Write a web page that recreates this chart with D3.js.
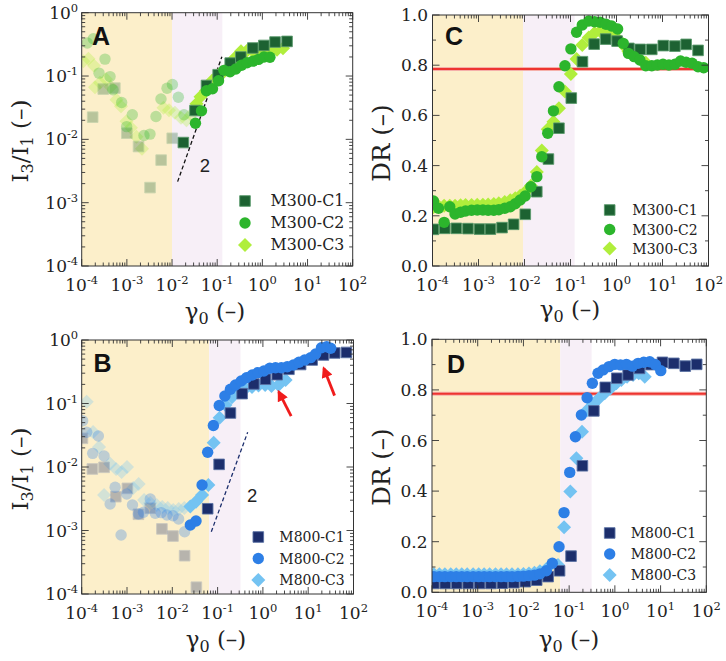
<!DOCTYPE html>
<html><head><meta charset="utf-8">
<script src="https://cdn.jsdelivr.net/npm/d3@7"></script>
<style>body{margin:0;background:#fff;} svg{display:block;}</style>
</head><body>
<svg id="chart" width="726" height="661"></svg>
<script>
// ---------------- DATA ----------------
const xTickExps = [-4, -3, -2, -1, 0, 1, 2];
const logYTickExps = [-4, -3, -2, -1, 0];
const drMajorTicks = [0.0, 0.2, 0.4, 0.6, 0.8, 1.0];
const drMinorTicks = [0.1, 0.3, 0.5, 0.7, 0.9];
const m300Names = ["M300-C1", "M300-C2", "M300-C3"];
const m800Names = ["M800-C1", "M800-C2", "M800-C3"];
const panelLetters = ["A", "B", "C", "D"];
const drReference = 0.785;

// Panel A : I3/I1 for M300
const A_C1_x = [1.75e-4, 3.0e-4, 5.42e-4, 1.0e-3, 1.81e-3, 3.26e-3, 5.74e-3, 0.0101, 0.0178, 0.0322, 0.058, 0.105, 0.194, 0.333, 0.615, 1.08, 1.91, 3.52];
const A_C1_y = [0.0224, 0.0622, 0.0645, 0.0125, 0.0077, 0.00173, 0.0047, 0.0104, 0.0089, 0.0285, 0.071, 0.105, 0.16, 0.2, 0.277, 0.304, 0.344, 0.352];
const A_C2_x = [1.33e-4, 1.81e-4, 2.42e-4, 3.28e-4, 4.24e-4, 4.93e-4, 7.67e-4, 9.9e-4, 1.32e-3, 2.39e-3, 3.25e-3, 4.41e-3, 5.69e-3, 7.74e-3, 0.0102, 0.0138, 0.0184, 0.033, 0.0449, 0.0579, 0.0787, 0.107, 0.141, 0.192, 0.258, 0.345, 0.457, 0.619, 0.82, 1.086, 1.47];
const A_C2_y = [0.332, 0.388, 0.111, 0.185, 0.098, 0.0607, 0.0382, 0.0159, 0.0244, 0.0115, 0.0121, 0.0229, 0.0433, 0.064, 0.0734, 0.0461, 0.0244, 0.018, 0.0282, 0.0585, 0.0628, 0.0841, 0.123, 0.117, 0.129, 0.148, 0.162, 0.172, 0.183, 0.2, 0.198];
const A_C3_x = [1.09e-4, 1.41e-4, 1.87e-4, 1.97e-4, 2.54e-4, 3.45e-4, 4.35e-4, 5.89e-4, 7.41e-4, 9.8e-4, 1.23e-3, 1.63e-3, 2.16e-3, 6.47e-3, 8.57e-3, 0.0116, 0.0158, 0.0209, 0.0262, 0.0348, 0.0427, 0.0565, 0.0767, 0.104, 0.141, 0.192, 0.248, 0.336, 0.457, 0.619, 0.841, 1.14, 1.55, 2.11, 2.86];
const A_C3_y = [0.171, 0.187, 0.145, 0.0664, 0.0781, 0.089, 0.0676, 0.0422, 0.0333, 0.0193, 0.0152, 0.011, 0.0071, 0.0315, 0.0287, 0.0262, 0.0219, 0.02, 0.0244, 0.0364, 0.047, 0.0585, 0.0841, 0.103, 0.117, 0.143, 0.195, 0.246, 0.251, 0.246, 0.241, 0.251, 0.255, 0.26, 0.275];

// Panel B : I3/I1 for M800
const B_C1_x = [1.04e-4, 1.72e-4, 3.12e-4, 5.66e-4, 1.02e-3, 1.79e-3, 3.26e-3, 5.9e-3, 0.01035, 0.0187, 0.034, 0.0604, 0.108, 0.192, 0.348, 0.63, 1.14, 2.07, 3.75, 6.8, 12.2, 21.7, 38.5, 69.8];
const B_C1_y = [0.0283, 0.00931, 0.00989, 0.00341, 0.00461, 0.0018, 0.00224, 0.00106, 0.000818, 0.000401, 0.000128, 0.0022, 0.011, 0.0708, 0.143, 0.203, 0.241, 0.284, 0.346, 0.411, 0.484, 0.581, 0.625, 0.637];
const B_C2_x = [1.05e-4, 1.29e-4, 1.75e-4, 2.33e-4, 3.12e-4, 4.24e-4, 5.47e-4, 7.41e-4, 9.9e-4, 1.32e-3, 1.79e-3, 2.31e-3, 3.26e-3, 4.2e-3, 5.7e-3, 7.62e-3, 0.01035, 0.01377, 0.0187, 0.025, 0.0334, 0.0454, 0.0604, 0.0807, 0.1086, 0.145, 0.192, 0.248, 0.332, 0.435, 0.581, 0.773, 1.05, 1.42, 1.9, 2.55, 3.45, 4.7, 6.25, 8.36, 11.3, 14.6, 19.6, 25.6, 31.4];
const B_C2_y = [0.0536, 0.0352, 0.0164, 0.0308, 0.0149, 0.00261, 0.00479, 0.000849, 0.00376, 0.00252, 0.00182, 0.00194, 0.00313, 0.00187, 0.00191, 0.00175, 0.00171, 0.00152, 0.000957, 0.00122, 0.00141, 0.00521, 0.0171, 0.045, 0.0931, 0.131, 0.1675, 0.196, 0.226, 0.255, 0.281, 0.306, 0.325, 0.359, 0.366, 0.366, 0.379, 0.404, 0.446, 0.484, 0.527, 0.603, 0.757, 0.785, 0.741];
const B_C3_x = [1.29e-4, 1.78e-4, 2.42e-4, 3.12e-4, 4.24e-4, 5.74e-4, 7.6e-4, 1.0e-3, 1.37e-3, 1.81e-3, 2.39e-3, 3.26e-3, 4.53e-3, 6.0e-3, 7.94e-3, 0.0105, 0.0139, 0.0184, 0.025, 0.0334, 0.0454, 0.0625, 0.082, 0.111, 0.149, 0.207, 0.288, 0.413, 0.575, 0.8, 1.12, 1.55, 2.22, 3.17];
const B_C3_y = [0.107, 0.0356, 0.0207, 0.00363, 0.0112, 0.0093, 0.00834, 0.01, 0.00467, 0.0054, 0.00302, 0.00271, 0.00252, 0.00234, 0.00226, 0.0021, 0.00218, 0.00226, 0.00239, 0.00284, 0.00363, 0.00521, 0.0242, 0.0598, 0.0948, 0.126, 0.152, 0.173, 0.182, 0.192, 0.196, 0.189, 0.196, 0.234];

// Panel C : DR for M300
const C_C1_x = [1.05e-4, 1.85e-4, 3.3e-4, 5.9e-4, 1.05e-3, 1.82e-3, 3.25e-3, 5.8e-3, 0.0104, 0.0185, 0.0331, 0.0561, 0.104, 0.182, 0.327, 0.582, 1.03, 1.86, 3.27, 5.85, 10.4, 18.6, 32.7, 59.3];
const C_C1_y = [0.146, 0.150, 0.150, 0.149, 0.147, 0.147, 0.153, 0.166, 0.206, 0.296, 0.426, 0.549, 0.669, 0.814, 0.884, 0.904, 0.896, 0.867, 0.863, 0.863, 0.878, 0.876, 0.883, 0.859];
const C_C2_x = [1.05e-4, 1.35e-4, 1.79e-4, 2.37e-4, 3.09e-4, 4.08e-4, 5.24e-4, 7.06e-4, 9.38e-4, 1.245e-3, 1.62e-3, 2.15e-3, 2.76e-3, 3.72e-3, 4.91e-3, 6.3e-3, 8.07e-3, 0.01035, 0.01374, 0.01854, 0.02377, 0.032, 0.0426, 0.0561, 0.0757, 0.102, 0.1355, 0.18, 0.2495, 0.332, 0.4406, 0.593, 0.783, 1.057, 1.403, 1.824, 2.421, 3.221, 4.335, 5.848, 7.727, 10.26, 13.8, 18.62, 24.7, 32.66, 44.06, 59.29, 78.7];
const C_C2_y = [0.259, 0.230, 0.174, 0.236, 0.207, 0.214, 0.219, 0.222, 0.223, 0.223, 0.222, 0.222, 0.224, 0.23, 0.236, 0.248, 0.263, 0.279, 0.316, 0.356, 0.435, 0.529, 0.618, 0.714, 0.798, 0.865, 0.931, 0.960, 0.976, 0.973, 0.971, 0.963, 0.956, 0.944, 0.887, 0.847, 0.834, 0.821, 0.798, 0.798, 0.801, 0.804, 0.801, 0.804, 0.817, 0.812, 0.808, 0.794, 0.790];
const C_C3_x = [1.05e-4, 1.35e-4, 1.79e-4, 2.37e-4, 3.09e-4, 4.08e-4, 5.24e-4, 7.06e-4, 9.38e-4, 1.245e-3, 1.62e-3, 2.15e-3, 2.76e-3, 3.72e-3, 4.91e-3, 6.3e-3, 8.07e-3, 0.01035, 0.01374, 0.01854, 0.02377, 0.032, 0.0426, 0.0561, 0.0757, 0.102, 0.1355, 0.18, 0.2495, 0.332, 0.4406, 0.593, 0.783, 1.057, 1.403, 1.824, 2.421, 3.221, 4.335];
const C_C3_y = [0.235, 0.238, 0.24, 0.24, 0.24, 0.242, 0.243, 0.243, 0.244, 0.244, 0.245, 0.247, 0.25, 0.255, 0.262, 0.27, 0.28, 0.295, 0.32, 0.375, 0.46, 0.545, 0.575, 0.628, 0.695, 0.765, 0.825, 0.88, 0.91, 0.928, 0.935, 0.932, 0.925, 0.905, 0.88, 0.855, 0.84, 0.825, 0.81];

// Panel D : DR for M800
const D_C1_x = [1.1e-4, 1.95e-4, 3.47e-4, 6.17e-4, 1.1e-3, 1.95e-3, 3.47e-3, 6.17e-3, 0.011, 0.0195, 0.0347, 0.0617, 0.11, 0.195, 0.347, 0.617, 1.1, 1.95, 3.47, 6.17, 11.0, 19.5, 34.7, 61.7];
const D_C1_y = [0.035, 0.035, 0.035, 0.035, 0.035, 0.035, 0.036, 0.038, 0.042, 0.048, 0.062, 0.085, 0.143, 0.5, 0.717, 0.81, 0.846, 0.859, 0.885, 0.9, 0.909, 0.905, 0.894, 0.901];
const D_C2_x = [1.1e-4, 1.45e-4, 1.91e-4, 2.57e-4, 3.39e-4, 4.47e-4, 5.89e-4, 7.94e-4, 1.05e-3, 1.38e-3, 1.82e-3, 2.45e-3, 3.24e-3, 4.27e-3, 5.62e-3, 7.59e-3, 0.01, 0.0132, 0.0174, 0.0229, 0.0317, 0.0428, 0.0601, 0.0773, 0.103, 0.137, 0.185, 0.247, 0.322, 0.429, 0.552, 0.746, 0.995, 1.33, 1.79, 2.42, 3.22, 4.29, 5.8, 7.69, 10.1];
const D_C2_y = [0.062, 0.062, 0.062, 0.062, 0.062, 0.062, 0.062, 0.062, 0.062, 0.062, 0.062, 0.062, 0.062, 0.062, 0.062, 0.063, 0.064, 0.066, 0.068, 0.073, 0.085, 0.115, 0.18, 0.315, 0.474, 0.615, 0.701, 0.769, 0.826, 0.866, 0.879, 0.892, 0.901, 0.899, 0.901, 0.894, 0.905, 0.909, 0.911, 0.9, 0.876];
const D_C3_x = [1.1e-4, 1.45e-4, 1.91e-4, 2.57e-4, 3.39e-4, 4.47e-4, 5.89e-4, 7.94e-4, 1.05e-3, 1.38e-3, 1.82e-3, 2.45e-3, 3.24e-3, 4.27e-3, 5.62e-3, 7.59e-3, 0.01, 0.0132, 0.0174, 0.0229, 0.0317, 0.0571, 0.0773, 0.106, 0.144, 0.191, 0.247, 0.333, 0.451, 0.601, 0.798, 1.08, 1.39, 1.85, 2.5, 3.33, 4.51];
const D_C3_y = [0.071, 0.071, 0.071, 0.071, 0.071, 0.071, 0.071, 0.071, 0.071, 0.071, 0.071, 0.071, 0.071, 0.071, 0.071, 0.071, 0.072, 0.074, 0.077, 0.083, 0.092, 0.108, 0.257, 0.398, 0.53, 0.635, 0.72, 0.744, 0.767, 0.787, 0.806, 0.826, 0.839, 0.852, 0.859, 0.866, 0.852];

// shaded strain regions [start, yellow end, pink end]
const shadeA = [1e-4, 0.01, 0.13];
const shadeB = [1e-4, 0.065, 0.32];
const shadeC = [1e-4, 0.0093, 0.123];
const shadeD = [1e-4, 0.064, 0.31];

// slope-2 guide lines
const slopeA_x = [0.0133, 0.127], slopeA_y = [0.00215, 0.202];
const slopeB_x = [0.0726, 0.461], slopeB_y = [0.000957, 0.0352];
const slopeLabelA = [0.0534, 0.0038], slopeLabelB = [0.577, 0.00353];

// red arrows in B: [tailX, tailY, headX, headY]
const arrowsB = [[4.2, 0.0635, 2.24, 0.153], [38.2, 0.133, 22.1, 0.358]];

// ---------------- STYLE / LAYOUT ----------------
const SERIF = "'DejaVu Serif', serif";
const SANS = "'Liberation Sans', Arial, sans-serif";
const SHAPES = {
  square: "M-5.3,-5.3H5.3V5.3H-5.3Z",
  circle: d3.symbol(d3.symbolCircle, Math.PI * 5.7 * 5.7)(),
  diamond: "M0,-7L7,0L0,7L-7,0Z"
};
const m300Style = [
  {shape: "square", fill: "#1d6232", stroke: "#5a9a6c"},
  {shape: "circle", fill: "#2cb52c", stroke: "none"},
  {shape: "diamond", fill: "#b0ee3c", stroke: "none"}
];
const m800Style = [
  {shape: "square", fill: "#1c2e6c", stroke: "#5a72a4"},
  {shape: "circle", fill: "#2d7fe6", stroke: "none"},
  {shape: "diamond", fill: "#74c3f2", stroke: "none"}
];

const panels = [
  {letter: panelLetters[0], type: "log", box: {l: 81.7, r: 352.7, t: 12.7, b: 266},
   xs: [A_C1_x, A_C2_x, A_C3_x], ys: [A_C1_y, A_C2_y, A_C3_y], fade: [0.012, 0.025, 0.03],
   names: m300Names, style: m300Style, shade: shadeA,
   legend: {mx: 245, tx: 270.5, rows: [201, 223, 245], fs: 15.8},
   letterPos: [92, 45], xTitle: [215, 318.5], yTitle: [28, 141],
   slope: {x: slopeA_x, y: slopeA_y, color: "#111", label: slopeLabelA}},
  {letter: panelLetters[1], type: "log", box: {l: 81.7, r: 353.5, t: 340, b: 594},
   xs: [B_C1_x, B_C2_x, B_C3_x], ys: [B_C1_y, B_C2_y, B_C3_y], fade: [0.045, 0.02, 0.02],
   names: m800Names, style: m800Style, shade: shadeB,
   legend: {mx: 258.3, tx: 279.3, rows: [537, 558.5, 580], fs: 14},
   letterPos: [93.5, 372], xTitle: [216, 647], yTitle: [28, 469],
   slope: {x: slopeB_x, y: slopeB_y, color: "#1c2e6c", label: slopeLabelB},
   arrows: arrowsB},
  {letter: panelLetters[2], type: "lin", box: {l: 432.5, r: 708.5, t: 15, b: 266},
   xs: [C_C1_x, C_C2_x, C_C3_x], ys: [C_C1_y, C_C2_y, C_C3_y], fade: [0, 0, 0],
   names: m300Names, style: m300Style, shade: shadeC,
   legend: {mx: 609.7, tx: 632.3, rows: [210, 229.5, 248.5], fs: 14},
   letterPos: [445, 45], xTitle: [570, 317], yTitle: [390, 143], ref: drReference},
  {letter: panelLetters[3], type: "lin", box: {l: 432, r: 706.3, t: 339.3, b: 592.3},
   xs: [D_C1_x, D_C2_x, D_C3_x], ys: [D_C1_y, D_C2_y, D_C3_y], fade: [0, 0, 0],
   names: m800Names, style: m800Style, shade: shadeD,
   legend: {mx: 609.7, tx: 630.7, rows: [533, 554, 575], fs: 14},
   letterPos: [447, 372.5], xTitle: [569, 647], yTitle: [390, 467], ref: drReference}
];

const svg = d3.select("#chart");
const defs = svg.append("defs");
defs.append("marker").attr("id", "arrowhead").attr("viewBox", "0 0 10 10")
  .attr("refX", 8).attr("refY", 5).attr("markerWidth", 4.2).attr("markerHeight", 4)
  .attr("orient", "auto").attr("markerUnits", "strokeWidth")
  .append("path").attr("d", "M0,0L10,5L0,10Z").attr("fill", "#f01c1c");

function expLabel(sel, exp) {
  sel.append("tspan").text("10");
  sel.append("tspan").attr("dy", -7).attr("font-size", 11.5).text(String(exp));
}

panels.forEach((p, pi) => {
  const {l, r, t, b} = p.box;
  const x = d3.scaleLog().domain([1e-4, 1e2]).range([l, r]);
  const y = p.type === "log"
    ? d3.scaleLog().domain([1e-4, 1]).range([b, t])
    : d3.scaleLinear().domain([0, 1]).range([b, t]);
  const g = svg.append("g");
  const clipId = "clip" + pi;
  defs.append("clipPath").attr("id", clipId).append("rect")
    .attr("x", l).attr("y", t).attr("width", r - l).attr("height", b - t);
  const plot = g.append("g").attr("clip-path", `url(#${clipId})`);

  // shaded regions
  plot.append("rect").attr("x", x(p.shade[0])).attr("y", t)
    .attr("width", x(p.shade[1]) - x(p.shade[0])).attr("height", b - t).attr("fill", "#fcefca");
  plot.append("rect").attr("x", x(p.shade[1])).attr("y", t)
    .attr("width", x(p.shade[2]) - x(p.shade[1])).attr("height", b - t).attr("fill", "#f7eff7");

  // reference line
  if (p.ref !== undefined) {
    plot.append("line").attr("x1", l).attr("x2", r).attr("y1", y(p.ref)).attr("y2", y(p.ref))
      .attr("stroke", "#f5b0aa").attr("stroke-width", 4);
    plot.append("line").attr("x1", l).attr("x2", r).attr("y1", y(p.ref)).attr("y2", y(p.ref))
      .attr("stroke", "#ee3430").attr("stroke-width", 2);
  }

  // slope guide
  if (p.slope) {
    plot.append("line")
      .attr("x1", x(p.slope.x[0])).attr("y1", y(p.slope.y[0]))
      .attr("x2", x(p.slope.x[1])).attr("y2", y(p.slope.y[1]))
      .attr("stroke", p.slope.color).attr("stroke-width", 1.3).attr("stroke-dasharray", "4,2.5");
    g.append("text").attr("x", x(p.slope.label[0])).attr("y", y(p.slope.label[1]) + 6.5)
      .attr("text-anchor", "middle").attr("font-family", SANS).attr("font-size", 18.5)
      .attr("fill", "#222").text("2");
  }

  // markers: draw C3, C1, C2
  [2, 0, 1].forEach(si => {
    const st = p.style[si];
    const pts = d3.zip(p.xs[si], p.ys[si]);
    plot.append("g").selectAll("path").data(pts).join("path")
      .attr("d", SHAPES[st.shape])
      .attr("transform", d => `translate(${x(d[0])},${y(d[1])})`)
      .attr("fill", st.fill).attr("stroke", st.stroke).attr("stroke-width", 0.9)
      .attr("opacity", d => d[0] < p.fade[si] ? 0.3 : 1);
  });

  // arrows
  if (p.arrows) {
    p.arrows.forEach(a => {
      g.append("line").attr("x1", x(a[0])).attr("y1", y(a[1])).attr("x2", x(a[2])).attr("y2", y(a[3]))
        .attr("stroke", "#f01c1c").attr("stroke-width", 2.8).attr("marker-end", "url(#arrowhead)");
    });
  }

  // frame
  g.append("rect").attr("x", l).attr("y", t).attr("width", r - l).attr("height", b - t)
    .attr("fill", "none").attr("stroke", "#333").attr("stroke-width", 1);

  const tickG = g.append("g").attr("stroke", "#333").attr("stroke-width", 0.9);
  // x ticks (log)
  xTickExps.forEach(e => {
    const v = Math.pow(10, e);
    const px = x(v);
    tickG.append("line").attr("x1", px).attr("x2", px).attr("y1", b).attr("y2", b - 7);
    tickG.append("line").attr("x1", px).attr("x2", px).attr("y1", t).attr("y2", t + 7);
    if (e < 2) {
      for (let m = 2; m <= 9; m++) {
        const mx = x(m * v);
        tickG.append("line").attr("x1", mx).attr("x2", mx).attr("y1", b).attr("y2", b - 3.5);
        tickG.append("line").attr("x1", mx).attr("x2", mx).attr("y1", t).attr("y2", t + 3.5);
      }
    }
    const tx = g.append("text").attr("x", px).attr("y", b + 24.5).attr("text-anchor", "middle")
      .attr("font-family", SERIF).attr("font-size", 17).attr("fill", "#222");
    expLabel(tx, e);
  });

  // y ticks
  if (p.type === "log") {
    logYTickExps.forEach(e => {
      const v = Math.pow(10, e);
      const py = y(v);
      tickG.append("line").attr("x1", l).attr("x2", l + 7).attr("y1", py).attr("y2", py);
      tickG.append("line").attr("x1", r).attr("x2", r - 7).attr("y1", py).attr("y2", py);
      if (e < 0) {
        for (let m = 2; m <= 9; m++) {
          const my = y(m * v);
          tickG.append("line").attr("x1", l).attr("x2", l + 3.5).attr("y1", my).attr("y2", my);
          tickG.append("line").attr("x1", r).attr("x2", r - 3.5).attr("y1", my).attr("y2", my);
        }
      }
      const ty = g.append("text").attr("x", l - 3.5).attr("y", py + 6).attr("text-anchor", "end")
        .attr("font-family", SERIF).attr("font-size", 17).attr("fill", "#222");
      expLabel(ty, e);
    });
  } else {
    drMajorTicks.forEach(v => {
      const py = y(v);
      tickG.append("line").attr("x1", l).attr("x2", l + 7).attr("y1", py).attr("y2", py);
      tickG.append("line").attr("x1", r).attr("x2", r - 7).attr("y1", py).attr("y2", py);
      g.append("text").attr("x", l - 4.5).attr("y", py + 6).attr("text-anchor", "end")
        .attr("font-family", SERIF).attr("font-size", 17).attr("fill", "#222").text(v.toFixed(1));
    });
    drMinorTicks.forEach(v => {
      const py = y(v);
      tickG.append("line").attr("x1", l).attr("x2", l + 3.5).attr("y1", py).attr("y2", py);
      tickG.append("line").attr("x1", r).attr("x2", r - 3.5).attr("y1", py).attr("y2", py);
    });
  }

  // x title
  const xt = g.append("text").attr("x", p.xTitle[0]).attr("y", p.xTitle[1]).attr("text-anchor", "middle")
    .attr("font-family", SERIF).attr("font-size", 23).attr("fill", "#222");
  xt.append("tspan").text("γ");
  xt.append("tspan").attr("dy", 5).attr("font-size", 16).text("0");
  xt.append("tspan").attr("dy", -5).text(" (–)");

  // y title
  const yt = g.append("text").attr("transform", `translate(${p.yTitle[0]},${p.yTitle[1]}) rotate(-90)`)
    .attr("text-anchor", "middle").attr("font-family", SERIF).attr("font-size", 23).attr("fill", "#222");
  if (p.type === "log") {
    yt.append("tspan").text("I");
    yt.append("tspan").attr("dy", 5).attr("font-size", 16).text("3");
    yt.append("tspan").attr("dy", -5).text("/I");
    yt.append("tspan").attr("dy", 5).attr("font-size", 16).text("1");
    yt.append("tspan").attr("dy", -5).text(" (–)");
  } else {
    yt.attr("font-size", 24.5).text("DR (–)");
  }

  // panel letter
  g.append("text").attr("x", p.letterPos[0]).attr("y", p.letterPos[1])
    .attr("font-family", SANS).attr("font-weight", "bold").attr("font-size", 25)
    .attr("fill", "#111").text(p.letter);

  // legend
  p.names.forEach((name, i) => {
    const st = p.style[i];
    const ry = p.legend.rows[i];
    g.append("path").attr("d", SHAPES[st.shape]).attr("transform", `translate(${p.legend.mx},${ry})`)
      .attr("fill", st.fill).attr("stroke", st.stroke).attr("stroke-width", 0.9);
    g.append("text").attr("x", p.legend.tx).attr("y", ry + 5.2)
      .attr("font-family", SERIF).attr("font-size", p.legend.fs).attr("fill", "#222").text(name);
  });
});
</script>
</body></html>
